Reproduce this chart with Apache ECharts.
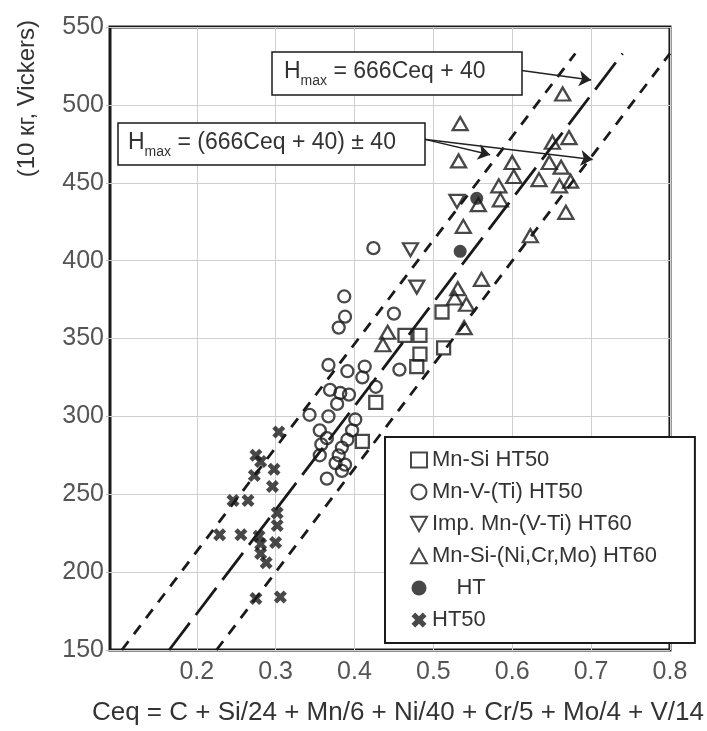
<!DOCTYPE html>
<html><head><meta charset="utf-8">
<script src="https://cdn.jsdelivr.net/npm/echarts@6/dist/echarts.min.js"></script>
<style>html,body{margin:0;padding:0;background:#fff}#c{width:707px;height:731px}</style>
</head><body><div id="c"></div>
<script>
const xTicks = [0.2, 0.3, 0.4, 0.5, 0.6, 0.7, 0.8];
const mnSiHT50 = [[0.511,367],[0.464,352],[0.483,352],[0.513,344],[0.483,340],[0.479,332],[0.427,309],[0.410,284]];
const mnVTiHT50 = [[0.424,408],[0.387,377],[0.388,364],[0.380,357],[0.450,366],[0.367,333],[0.391,329],[0.413,332],[0.410,325],[0.427,319],[0.457,330],[0.369,317],[0.382,315],[0.393,314],[0.378,308],[0.343,301],[0.367,300],[0.401,298],[0.356,291],[0.397,291],[0.365,286],[0.391,285],[0.358,282],[0.384,280],[0.356,275],[0.380,275],[0.376,270],[0.388,269],[0.384,265],[0.365,260]];
const impMnVTiHT60 = [[0.471,407],[0.479,383],[0.530,438]];
const mnSiNiCrMoHT60 = [[0.664,507],[0.534,488],[0.532,464],[0.600,463],[0.602,454],[0.583,448],[0.585,439],[0.651,476],[0.672,479],[0.647,463],[0.662,460],[0.634,452],[0.660,448],[0.674,451],[0.668,431],[0.623,416],[0.538,422],[0.557,436],[0.561,388],[0.531,382],[0.527,376],[0.542,372],[0.539,357],[0.442,354],[0.436,346]];
const htFilled = [[0.555,440],[0.534,406]];
const ht50 = [[0.304,290],[0.275,275],[0.281,271],[0.298,266],[0.273,262],[0.296,255],[0.246,246],[0.265,246],[0.302,238],[0.302,230],[0.229,224],[0.256,224],[0.279,223],[0.281,218],[0.300,219],[0.281,212],[0.288,206],[0.275,183],[0.306,184]];
// fitted lines (end points)
const upperLine = [[0.105,150],[0.680,533]];
const middleLine = [[0.165,150],[0.740,533]];
const lowerLine = [[0.225,150],[0.800,533]];
// arrow anchors (data coords)
const arrows = [
  [[0.612,522],[0.700,516]],
  [[0.488,478],[0.572,468]],
  [[0.488,478],[0.702,465]]
];

const ink = '#1a1a1a';
const hollow = {color:'rgba(255,255,255,0)', borderColor: ink, borderWidth: 2.3};
const chart = echarts.init(document.getElementById('c'));
const crossPath = 'path://M0,2.5 L2.5,0 L5,2.5 L7.5,0 L10,2.5 L7.5,5 L10,7.5 L7.5,10 L5,7.5 L2.5,10 L0,7.5 L2.5,5 Z';
const downTri = 'path://M0,0 L10,0 L5,9 Z';
const upTri = 'path://M5,0 L10,9 L0,9 Z';

chart.setOption({
  animation: false,
  grid: {left: 110, right: 36, top: 27, bottom: 74, show: true, borderColor: ink, borderWidth: 3, backgroundColor: 'transparent'},
  xAxis: {
    type: 'value', min: 0.09, max: 0.8,
    name: 'Ceq = C + Si/24 + Mn/6 + Ni/40 + Cr/5 + Mo/4 + V/14',
    nameLocation: 'middle', nameGap: 50,
    nameTextStyle: {fontFamily: 'Liberation Sans', fontSize: 26, color: '#333', padding: [0, 0, 0, 16]},
    axisLine: {show: false},
    axisTick: {show: false, customValues: xTicks},
    axisLabel: {customValues: xTicks, fontFamily: 'Liberation Sans', fontSize: 25, color: '#555', margin: 10, formatter: v => v.toFixed(1)},
    splitLine: {show: true, lineStyle: {color: '#cfcfcf', width: 1}}
  },
  yAxis: {
    type: 'value', min: 150, max: 550, interval: 50,
    axisLine: {show: false},
    axisTick: {show: true, length: 4, lineStyle: {color: '#bbb'}},
    axisLabel: {fontFamily: 'Liberation Sans', fontSize: 25, color: '#555', margin: 6},
    splitLine: {show: true, lineStyle: {color: '#cfcfcf', width: 1}}
  },
  legend: {
    orient: 'vertical', left: 385, top: 437,
    backgroundColor: '#fff', borderColor: ink, borderWidth: 2,
    padding: [12, 38, 12, 25], itemGap: 10, itemWidth: 16, itemHeight: 15,
    textStyle: {fontFamily: 'Liberation Sans', fontSize: 22, color: '#333'},
    data: ['Mn-Si HT50', 'Mn-V-(Ti) HT50', 'Imp. Mn-(V-Ti) HT60', 'Mn-Si-(Ni,Cr,Mo) HT60', '    HT', 'HT50']
  },
  series: [
    {type:'line', data: upperLine, symbol:'none', lineStyle:{color: ink, width: 2.8, type: [11, 9]}, silent: true},
    {type:'line', data: middleLine, symbol:'none', lineStyle:{color: ink, width: 2.8, type: [34, 10]}, silent: true,
      markLine: {silent: true, symbol: ['none', 'arrow'], symbolSize: 12, label: {show: false},
        lineStyle: {type: 'solid', color: '#222', width: 1.5},
        data: arrows.map(a => [{coord: a[0]}, {coord: a[1]}])}},
    {type:'line', data: lowerLine, symbol:'none', lineStyle:{color: ink, width: 2.8, type: [11, 9]}, silent: true},
    {name: 'Mn-Si HT50', type: 'scatter', data: mnSiHT50, symbol: 'rect', symbolSize: 13, itemStyle: hollow},
    {name: 'Mn-V-(Ti) HT50', type: 'scatter', data: mnVTiHT50, symbol: 'circle', symbolSize: 12, itemStyle: hollow},
    {name: 'Imp. Mn-(V-Ti) HT60', type: 'scatter', data: impMnVTiHT60, symbol: downTri, symbolSize: [15, 13], itemStyle: hollow},
    {name: 'Mn-Si-(Ni,Cr,Mo) HT60', type: 'scatter', data: mnSiNiCrMoHT60, symbol: upTri, symbolSize: [15, 13], itemStyle: hollow},
    {name: '    HT', type: 'scatter', data: htFilled, symbol: 'circle', symbolSize: 13, itemStyle: {color: ink}},
    {name: 'HT50', type: 'scatter', data: ht50, symbol: crossPath, symbolSize: 13, itemStyle: {color: ink}}
  ],
  graphic: [
    {type: 'text', left: 15, top: 20, rotation: Math.PI / 2,
      style: {text: '(10 кг, Vickers)', fontFamily: 'Liberation Sans', fontSize: 24, fill: '#333'}},
    {type: 'rect', shape: {x: 272, y: 52, width: 250, height: 43}, style: {fill: '#fff', stroke: ink, lineWidth: 1.5}, z: 50},
    {type: 'text', x: 284, y: 60, z: 51, style: {
      text: '{h|H}{s|max}{t| = 666Ceq + 40}',
      rich: {h: {fontFamily:'Liberation Sans', fontSize: 23, fill:'#333', verticalAlign:'top', lineHeight: 26},
             s: {fontFamily:'Liberation Sans', fontSize: 14, fill:'#333', verticalAlign:'top', padding:[14,0,0,0]},
             t: {fontFamily:'Liberation Sans', fontSize: 23, fill:'#333', verticalAlign:'top', lineHeight: 26}}}},
    {type: 'rect', shape: {x: 118, y: 123, width: 307, height: 42}, style: {fill: '#fff', stroke: ink, lineWidth: 1.5}, z: 50},
    {type: 'text', x: 128, y: 131, z: 51, style: {
      text: '{h|H}{s|max}{t| = (666Ceq + 40) ± 40}',
      rich: {h: {fontFamily:'Liberation Sans', fontSize: 23, fill:'#333', verticalAlign:'top', lineHeight: 26},
             s: {fontFamily:'Liberation Sans', fontSize: 14, fill:'#333', verticalAlign:'top', padding:[14,0,0,0]},
             t: {fontFamily:'Liberation Sans', fontSize: 23, fill:'#333', verticalAlign:'top', lineHeight: 26}}}}
  ]
});
</script></body></html>
